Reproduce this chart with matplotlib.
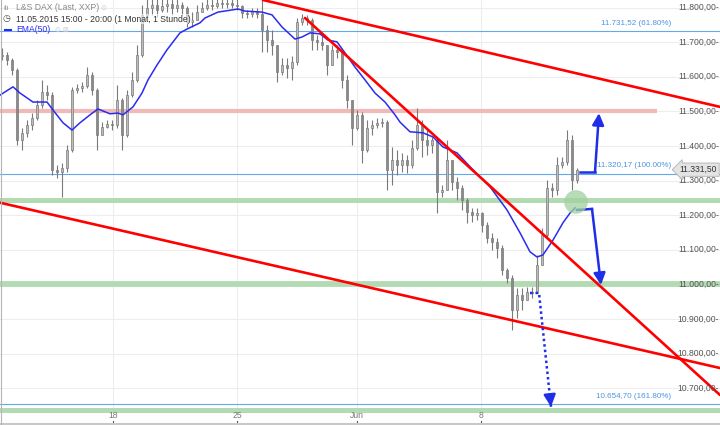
import numpy as np
import matplotlib.pyplot as plt
from matplotlib.lines import Line2D
import matplotlib.transforms as mtransforms

plt.rcParams['font.family'] = ['Liberation Sans', 'DejaVu Sans']

# --- Kursdaten (Stundenkerzen, verdichtet) ---
first_open = 11660
close = [11663, 11649, 11620, 11417, 11438, 11461, 11481, 11519, 11556, 11547,
         11331, 11325, 11337, 11389, 11562, 11568, 11573, 11605, 11562, 11432,
         11455, 11464, 11461, 11533, 11432, 11547, 11591, 11663, 11779, 11799,
         11808, 11793, 11805, 11810, 11799, 11808, 11799, 11758, 11764, 11787,
         11799, 11808, 11805, 11813, 11810, 11813, 11808, 11805, 11784, 11782,
         11787, 11782, 11735, 11706, 11692, 11614, 11634, 11626, 11643, 11758,
         11770, 11764, 11706, 11701, 11692, 11634, 11678, 11672, 11591, 11533,
         11452, 11490, 11389, 11452, 11461, 11467, 11469, 11331, 11360, 11345,
         11360, 11345, 11394, 11461, 11417, 11403, 11417, 11267, 11273, 11360,
         11296, 11279, 11244, 11209, 11201, 11206, 11172, 11134, 11123, 11105,
         11042, 11019, 10926, 10969, 10955, 10978, 10975, 11056, 11143, 11279,
         11273, 11345, 11354, 11417, 11302, 11331]
high = [11683, 11672, 11654, 11626, 11452, 11475, 11495, 11533, 11591, 11576,
        11556, 11345, 11351, 11403, 11571, 11579, 11585, 11628, 11614, 11568,
        11469, 11475, 11475, 11576, 11539, 11562, 11614, 11692, 11808, 11830,
        11835, 11830, 11835, 11840, 11835, 11840, 11816, 11805, 11787, 11808,
        11816, 11830, 11835, 11845, 11840, 11845, 11840, 11830, 11808, 11793,
        11799, 11799, 11840, 11750, 11735, 11692, 11654, 11654, 11660, 11770,
        11782, 11779, 11770, 11721, 11718, 11692, 11692, 11692, 11663, 11605,
        11533, 11504, 11498, 11475, 11475, 11481, 11481, 11475, 11397, 11389,
        11380, 11374, 11417, 11510, 11475, 11446, 11426, 11423, 11287, 11417,
        11360, 11310, 11287, 11250, 11221, 11221, 11209, 11180, 11149, 11134,
        11114, 11048, 11027, 10990, 10990, 10993, 10993, 11085, 11163, 11302,
        11293, 11368, 11368, 11446, 11432, 11337]
low = [11649, 11634, 11605, 11403, 11389, 11426, 11446, 11475, 11510, 11533,
       11316, 11308, 11253, 11325, 11383, 11553, 11556, 11568, 11547, 11389,
       11432, 11452, 11446, 11452, 11389, 11426, 11542, 11585, 11657, 11764,
       11779, 11773, 11787, 11787, 11779, 11787, 11779, 11744, 11744, 11773,
       11787, 11793, 11793, 11799, 11799, 11799, 11799, 11793, 11770, 11770,
       11773, 11770, 11672, 11672, 11663, 11585, 11605, 11597, 11591, 11634,
       11750, 11750, 11678, 11678, 11678, 11605, 11643, 11654, 11568, 11510,
       11403, 11446, 11351, 11383, 11432, 11452, 11455, 11273, 11287, 11316,
       11325, 11322, 11337, 11389, 11368, 11374, 11380, 11206, 11253, 11273,
       11273, 11244, 11215, 11178, 11180, 11186, 11151, 11120, 11100, 11076,
       11027, 11004, 10868, 10903, 10926, 10961, 10961, 10975, 11065, 11134,
       11253, 11258, 11337, 11345, 11273, 11293]

# EMA(50) (Position in Kerzen, Kurs)
ema_pos = [-0.4, 2.2, 3.6, 6.2, 9.0, 10.2, 12.2, 14.0, 15.6, 17.6, 19.2, 21.6,
           23.2, 24.2, 26.2, 28.0, 29.2, 31.0, 33.0, 35.6, 37.0, 39.6, 40.6,
           43.2, 47.2, 48.6, 52.0, 54.0, 56.0, 58.6, 60.0, 61.6, 63.6, 65.2,
           67.0, 68.6, 70.6, 72.6, 74.6, 76.6, 78.6, 79.6, 81.6, 84.2, 86.2,
           88.2, 91.0, 94.2, 97.6, 101.0, 103.6, 105.6, 107.0, 108.2, 110.2,
           112.2, 113.6, 114.6]
ema_val = [11547, 11571, 11553, 11527, 11527, 11504, 11467, 11446, 11467, 11490,
           11507, 11493, 11495, 11490, 11513, 11553, 11591, 11634, 11678, 11727,
           11738, 11756, 11770, 11787, 11796, 11790, 11787, 11779, 11744, 11709,
           11715, 11727, 11724, 11706, 11701, 11669, 11628, 11591, 11553, 11527,
           11490, 11469, 11441, 11438, 11426, 11397, 11380, 11331, 11282, 11215,
           11149, 11094, 11079, 11085, 11128, 11178, 11206, 11221]

# Zeitachse
date_pos = [22.2, 47.0, 71.0, 95.8]
date_labels = ['18', '25', 'Jun', '8']

# Zeichnungen
fib_levels = [11731.52, 11320.17, 10654.70]
fib_labels = ['11.731,52 (61.80%)', '11.320,17 (100.00%)', '10.654,70 (161.80%)']
resistance = 11500
resistance_end = 131
support_levels = [11244, 11000, 10637]
trend_lines = [
    [(52.2, 11822), (143.6, 11513)],
    [(60.6, 11770), (143.6, 10680)],
    [(-0.4, 11236), (143.6, 10758)],
]
up_arrow = [(115.6, 11325), (118.6, 11325), (119.4, 11495)]
down_arrow = [(115.0, 11215), (118.0, 11218), (119.8, 10998)]
dotted_arrow = [(105.6, 10975), (107.4, 10975), (109.8, 10646)]
circle_pt = (114.8, 11238)
last_price = 11331.50

price_ticks = np.arange(10700, 11801, 100)
x_min, x_max = -0.4, 143.6
y_min, y_max = 10628, 11822


def de_fmt(v):
    return f"{v:,.2f}".replace(',', 'X').replace('.', ',').replace('X', '.')


W, H = 720, 425
fig = plt.figure(figsize=(7.2, 4.25), dpi=100)
ax = fig.add_axes([0, 12 / H, 1, 413 / H])
ax.set_xlim(x_min, x_max)
ax.set_ylim(y_min, y_max)
ax.set_axis_off()

# Gitter
for v in price_ticks:
    ax.axhline(v, color='#ededed', lw=0.8, zorder=0)
for p in date_pos:
    ax.axvline(p, color='#ededed', lw=0.8, zorder=0)

# Zonen
ax.plot([x_min, resistance_end], [resistance] * 2, color='#f2b9b9', lw=3.0,
        solid_capstyle='butt', zorder=1)
for i, lvl in enumerate(support_levels):
    ax.axhline(lvl, color='#b3dbb3', lw=4.2 if i == 1 else 3.6, zorder=1)
for lvl in fib_levels:
    ax.axhline(lvl, color='#64a8ec', lw=0.8, zorder=2)

# Kerzen
close = np.array(close, dtype=float)
high = np.array(high, dtype=float)
low = np.array(low, dtype=float)
opn = np.concatenate([[first_open], close[:-1]])
idx = np.arange(len(close))
top = np.maximum(np.maximum(opn, close), high)
bot = np.minimum(np.minimum(opn, close), low)
ax.vlines(idx, bot, top, color='#7a7a7a', lw=0.8, zorder=3)
up = close >= opn
body_lo = np.minimum(opn, close)
body_h = np.maximum(np.abs(close - opn), 2)
ax.bar(idx[up], body_h[up], bottom=body_lo[up], width=0.5, color='#bdbdbd',
       edgecolor='#7a7a7a', lw=0.5, zorder=4)
ax.bar(idx[~up], body_h[~up], bottom=body_lo[~up], width=0.5, color='#8a8a8a',
       edgecolor='#7a7a7a', lw=0.5, zorder=4)

# EMA
ax.plot(ema_pos, ema_val, color='#2b2bf0', lw=1.1, zorder=5)

# Trendlinien
for (x0, y0), (x1, y1) in trend_lines:
    ax.plot([x0, x1], [y0, y1], color='#ff0000', lw=1.9, zorder=6,
            solid_capstyle='round')

# Pfeile
blue = '#1f2ee8'
head = dict(arrowstyle='-|>,head_width=0.35,head_length=0.7', color=blue,
            lw=1.8, shrinkA=0, shrinkB=0)
for pts in (up_arrow, down_arrow):
    xs, ys = zip(*pts)
    ax.plot(xs[:-1], ys[:-1], color=blue, lw=1.8, zorder=7,
            solid_joinstyle='miter')
    ax.annotate('', xy=pts[-1], xytext=pts[-2], arrowprops=head, zorder=7)
xs, ys = zip(*dotted_arrow)
ax.plot(xs, ys, color=blue, lw=1.8, ls=(0, (1, 1.2)), zorder=7)
tip = dotted_arrow[-1]
pre = dotted_arrow[-2]
mid = (tip[0] - (tip[0] - pre[0]) * 0.1, tip[1] - (tip[1] - pre[1]) * 0.1)
ax.annotate('', xy=tip, xytext=mid, arrowprops=head, zorder=7)

ax.scatter([circle_pt[0]], [circle_pt[1]], s=290, color='#9fd19f', alpha=0.75,
           edgecolors='none', zorder=8)

# Beschriftungen rechts
trans = mtransforms.blended_transform_factory(ax.transAxes, ax.transData)
for v in price_ticks:
    ax.text(1 - 1 / W, v, de_fmt(v) + '-', transform=trans, ha='right',
            va='center', fontsize=6.2, color='#555555', zorder=9)
for lvl, lab in zip(fib_levels, fib_labels):
    ax.text(671 / W, lvl + 12, lab, transform=trans, ha='right', va='bottom',
            fontsize=5.8, color='#4d94e0', zorder=9)
ax.text(1 - 3 / W, last_price, de_fmt(last_price), transform=trans, ha='right',
        va='center', fontsize=6.2, color='#333333', zorder=10,
        bbox=dict(boxstyle='larrow,pad=0.25', fc='#e4e4e4', ec='#b0b0b0', lw=0.6))

# Zeitachse
tx = mtransforms.blended_transform_factory(ax.transData, fig.transFigure)
for p, lab in zip(date_pos, date_labels):
    fig.text(p, 1 - 416 / H, lab, transform=tx, ha='center', va='center',
             fontsize=6.2, color='#777777')
    fig.add_artist(Line2D([p, p], [1 - 421 / H, 1 - 423.5 / H], transform=tx,
                          color='#555555', lw=0.8))
fig.add_artist(Line2D([0, 1], [1.5 / H, 1.5 / H], transform=fig.transFigure,
                      color='#c8c8c8', lw=2.2))
fig.add_artist(Line2D([0.5 / W, 0.5 / W], [0, 1], transform=fig.transFigure,
                      color='#b5b5b5', lw=0.8))

# Kopfzeile
def fx(px):
    return px / W


def fy(py):
    return 1 - py / H


fig.text(fx(3), fy(8), 'ılı', fontsize=5, color='#888888', va='center')
fig.text(fx(16), fy(8), 'L&S DAX (Last, XXP)', fontsize=6.2, color='#888888',
         va='center')
fig.text(fx(100), fy(8), '⊙', fontsize=5, color='#cccccc', va='center')
fig.text(fx(2.5), fy(19), '◷', fontsize=6.5, color='#444444', va='center')
fig.text(fx(16), fy(19), '11.05.2015 15:00 - 20:00 (1 Monat, 1 Stunde)',
         fontsize=6.2, color='#333333', va='center',
         bbox=dict(boxstyle='square,pad=0.1', fc='white', ec='none', alpha=0.6))
fig.add_artist(Line2D([fx(5), fx(11)], [fy(30), fy(30)], color='#2b2bf0', lw=1.5))
fig.text(fx(16), fy(30), 'EMA(50)', fontsize=6.2, color='#2b2bf0', va='center')
fig.text(fx(55), fy(30), '⊙ ⊠', fontsize=5, color='#cccccc', va='center')

fig.savefig('out.png', dpi=100)
